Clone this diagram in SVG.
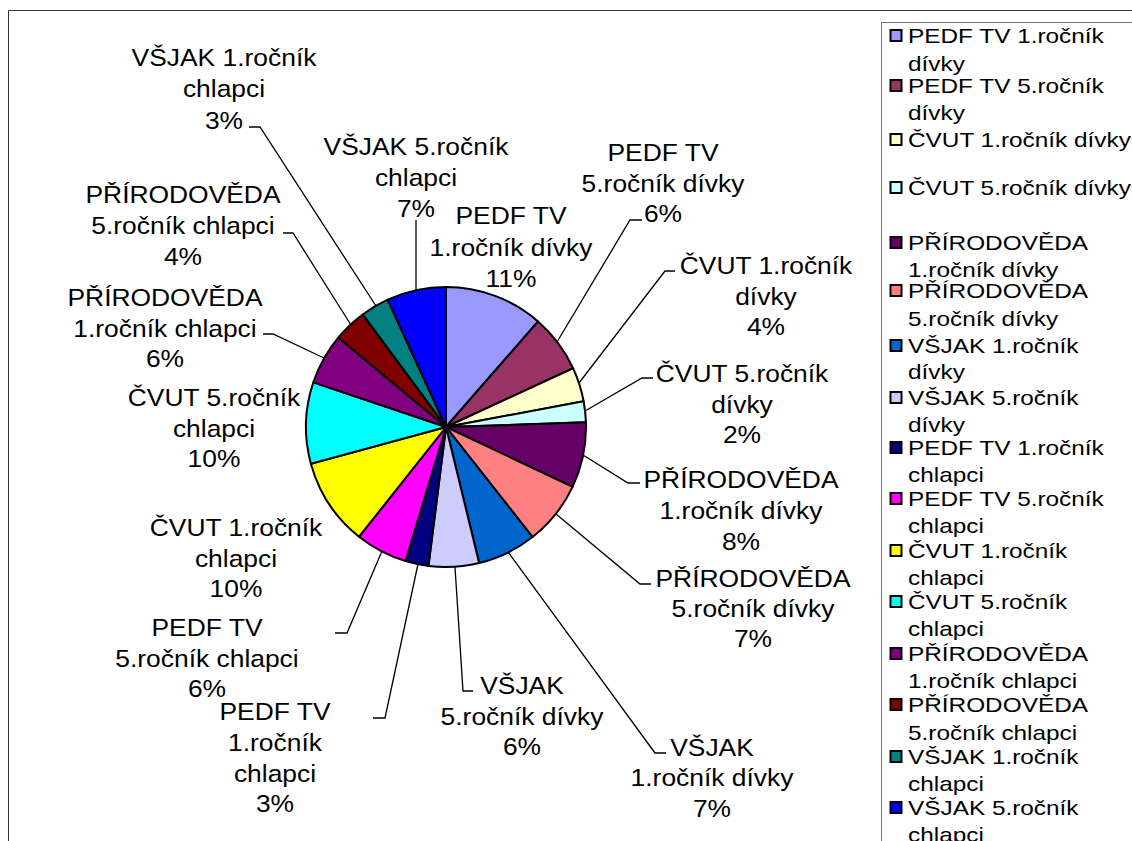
<svg xmlns="http://www.w3.org/2000/svg" width="1132" height="841" viewBox="0 0 1132 841">
<style>
.s{stroke:#000;stroke-width:2;stroke-linejoin:round}
.ld{fill:none;stroke:#000;stroke-width:1.3}
.lb{font-family:"Liberation Sans",Arial,sans-serif;font-size:24px;fill:#000;text-anchor:middle}
.lg{font-family:"Liberation Sans",Arial,sans-serif;font-size:21px;fill:#000}
.sw{stroke:#000;stroke-width:2}
</style>
<rect width="1132" height="841" fill="#fff"/>
<path d="M8.5,841 V10.5 H1132" fill="none" stroke="#333" stroke-width="1"/>
<g id="pie">
<path id="s1" class="s" fill="#9999FF" d="M446,427 L446,287 A140,140 0 0 1 538.04,321.5 Z"/>
<path id="s2" class="s" fill="#993366" d="M446,427 L538.04,321.5 A140,140 0 0 1 573.09,368.27 Z"/>
<path id="s3" class="s" fill="#FFFFCC" d="M446,427 L573.09,368.27 A140,140 0 0 1 583.61,401.25 Z"/>
<path id="s4" class="s" fill="#CCFFFF" d="M446,427 L583.61,401.25 A140,140 0 0 1 585.92,422.36 Z"/>
<path id="s5" class="s" fill="#660066" d="M446,427 L585.92,422.36 A140,140 0 0 1 572.57,486.84 Z"/>
<path id="s6" class="s" fill="#FF8080" d="M446,427 L572.57,486.84 A140,140 0 0 1 532.58,537.03 Z"/>
<path id="s7" class="s" fill="#0066CC" d="M446,427 L532.58,537.03 A140,140 0 0 1 479.15,563.01 Z"/>
<path id="s8" class="s" fill="#CCCCFF" d="M446,427 L479.15,563.01 A140,140 0 0 1 428.46,565.89 Z"/>
<path id="s9" class="s" fill="#000080" d="M446,427 L428.46,565.89 A140,140 0 0 1 405.54,561.02 Z"/>
<path id="s10" class="s" fill="#FF00FF" d="M446,427 L405.54,561.02 A140,140 0 0 1 359.05,536.72 Z"/>
<path id="s11" class="s" fill="#FFFF00" d="M446,427 L359.05,536.72 A140,140 0 0 1 310.9,463.71 Z"/>
<path id="s12" class="s" fill="#00FFFF" d="M446,427 L310.9,463.71 A140,140 0 0 1 313.31,382.34 Z"/>
<path id="s13" class="s" fill="#800080" d="M446,427 L313.31,382.34 A140,140 0 0 1 338.28,337.57 Z"/>
<path id="s14" class="s" fill="#800000" d="M446,427 L338.28,337.57 A140,140 0 0 1 362.73,314.45 Z"/>
<path id="s15" class="s" fill="#008080" d="M446,427 L362.73,314.45 A140,140 0 0 1 387.72,299.71 Z"/>
<path id="s16" class="s" fill="#0000FF" d="M446,427 L387.72,299.71 A140,140 0 0 1 446,287 Z"/>
</g>
<g id="connectors">
<polyline class="ld" points="249,127 260,127 376,306"/>
<polyline class="ld" points="416,220 416,290"/>
<polyline class="ld" points="642,220 630,220 557,342"/>
<polyline class="ld" points="675,271 665,271 579,383"/>
<polyline class="ld" points="653,378 642,378 585,411"/>
<polyline class="ld" points="640,483 628,483 583,455"/>
<polyline class="ld" points="651,584 640,584 556,514"/>
<polyline class="ld" points="666,753 655,753 508,552"/>
<polyline class="ld" points="473,691 463,691 455,567"/>
<polyline class="ld" points="373,718 385,718 418,564"/>
<polyline class="ld" points="335,633 347,633 382,551"/>
<polyline class="ld" points="263,334 273,334 324,358"/>
<polyline class="ld" points="283,233 293,233 351,325"/>
</g>
<g id="labels">
<g id="l-vsjak1ch"><text class="lb" transform="translate(224,66) scale(1.1 1)"><tspan x="0" y="0">VŠJAK 1.ročník</tspan><tspan x="0" y="31">chlapci</tspan><tspan x="0" y="63">3%</tspan></text></g>
<g id="l-vsjak5ch"><text class="lb" transform="translate(416,155) scale(1.1 1)"><tspan x="0" y="0">VŠJAK 5.ročník</tspan><tspan x="0" y="31">chlapci</tspan><tspan x="0" y="62">7%</tspan></text></g>
<g id="l-pedf1d"><text class="lb" transform="translate(511,224) scale(1.1 1)"><tspan x="0" y="0">PEDF TV</tspan><tspan x="0" y="32">1.ročník dívky</tspan><tspan x="0" y="63">11%</tspan></text></g>
<g id="l-pedf5d"><text class="lb" transform="translate(663,161) scale(1.1 1)"><tspan x="0" y="0">PEDF TV</tspan><tspan x="0" y="31">5.ročník dívky</tspan><tspan x="0" y="61">6%</tspan></text></g>
<g id="l-cvut1d"><text class="lb" transform="translate(766,274) scale(1.1 1)"><tspan x="0" y="0">ČVUT 1.ročník</tspan><tspan x="0" y="31">dívky</tspan><tspan x="0" y="61">4%</tspan></text></g>
<g id="l-cvut5d"><text class="lb" transform="translate(742,382) scale(1.1 1)"><tspan x="0" y="0">ČVUT 5.ročník</tspan><tspan x="0" y="31">dívky</tspan><tspan x="0" y="61">2%</tspan></text></g>
<g id="l-pr1d"><text class="lb" transform="translate(741,488) scale(1.1 1)"><tspan x="0" y="0">PŘÍRODOVĚDA</tspan><tspan x="0" y="31">1.ročník dívky</tspan><tspan x="0" y="62">8%</tspan></text></g>
<g id="l-pr5d"><text class="lb" transform="translate(753,587) scale(1.1 1)"><tspan x="0" y="0">PŘÍRODOVĚDA</tspan><tspan x="0" y="30">5.ročník dívky</tspan><tspan x="0" y="60">7%</tspan></text></g>
<g id="l-vsjak1d"><text class="lb" transform="translate(712,756) scale(1.1 1)"><tspan x="0" y="0">VŠJAK</tspan><tspan x="0" y="30">1.ročník dívky</tspan><tspan x="0" y="61">7%</tspan></text></g>
<g id="l-vsjak5d"><text class="lb" transform="translate(522,694) scale(1.1 1)"><tspan x="0" y="0">VŠJAK</tspan><tspan x="0" y="31">5.ročník dívky</tspan><tspan x="0" y="61">6%</tspan></text></g>
<g id="l-pedf1ch"><text class="lb" transform="translate(275,720) scale(1.1 1)"><tspan x="0" y="0">PEDF TV</tspan><tspan x="0" y="31">1.ročník</tspan><tspan x="0" y="62">chlapci</tspan><tspan x="0" y="92">3%</tspan></text></g>
<g id="l-pedf5ch"><text class="lb" transform="translate(207,636) scale(1.1 1)"><tspan x="0" y="0">PEDF TV</tspan><tspan x="0" y="31">5.ročník chlapci</tspan><tspan x="0" y="61">6%</tspan></text></g>
<g id="l-cvut1ch"><text class="lb" transform="translate(236,536) scale(1.1 1)"><tspan x="0" y="0">ČVUT 1.ročník</tspan><tspan x="0" y="31">chlapci</tspan><tspan x="0" y="61">10%</tspan></text></g>
<g id="l-cvut5ch"><text class="lb" transform="translate(214,406) scale(1.1 1)"><tspan x="0" y="0">ČVUT 5.ročník</tspan><tspan x="0" y="31">chlapci</tspan><tspan x="0" y="61">10%</tspan></text></g>
<g id="l-pr1ch"><text class="lb" transform="translate(165,306) scale(1.1 1)"><tspan x="0" y="0">PŘÍRODOVĚDA</tspan><tspan x="0" y="31">1.ročník chlapci</tspan><tspan x="0" y="61">6%</tspan></text></g>
<g id="l-pr5ch"><text class="lb" transform="translate(183,203) scale(1.1 1)"><tspan x="0" y="0">PŘÍRODOVĚDA</tspan><tspan x="0" y="31">5.ročník chlapci</tspan><tspan x="0" y="62">4%</tspan></text></g>
</g>
<g id="legend">
<rect x="881.5" y="22.5" width="300" height="900" fill="#fff" stroke="#777" stroke-width="1"/>
<rect class="sw" x="890.5" y="30" width="11" height="11" fill="#9999FF"/>
<text class="lg" transform="translate(908,43) scale(1.16 1)"><tspan x="0" y="0">PEDF TV 1.ročník</tspan><tspan x="0" y="28">dívky</tspan></text>
<rect class="sw" x="890.5" y="80" width="11" height="11" fill="#993366"/>
<text class="lg" transform="translate(908,93) scale(1.16 1)"><tspan x="0" y="0">PEDF TV 5.ročník</tspan><tspan x="0" y="27">dívky</tspan></text>
<rect class="sw" x="890.5" y="134" width="11" height="11" fill="#FFFFCC"/>
<text class="lg" transform="translate(908,147) scale(1.16 1)">ČVUT 1.ročník dívky</text>
<rect class="sw" x="890.5" y="182" width="11" height="11" fill="#CCFFFF"/>
<text class="lg" transform="translate(908,195) scale(1.16 1)">ČVUT 5.ročník dívky</text>
<rect class="sw" x="890.5" y="237" width="11" height="11" fill="#660066"/>
<text class="lg" transform="translate(908,250) scale(1.16 1)"><tspan x="0" y="0">PŘÍRODOVĚDA</tspan><tspan x="0" y="27">1.ročník dívky</tspan></text>
<rect class="sw" x="890.5" y="285" width="11" height="11" fill="#FF8080"/>
<text class="lg" transform="translate(908,298) scale(1.16 1)"><tspan x="0" y="0">PŘÍRODOVĚDA</tspan><tspan x="0" y="28">5.ročník dívky</tspan></text>
<rect class="sw" x="890.5" y="340" width="11" height="11" fill="#0066CC"/>
<text class="lg" transform="translate(908,353) scale(1.16 1)"><tspan x="0" y="0">VŠJAK 1.ročník</tspan><tspan x="0" y="26">dívky</tspan></text>
<rect class="sw" x="890.5" y="392" width="11" height="11" fill="#CCCCFF"/>
<text class="lg" transform="translate(908,405) scale(1.16 1)"><tspan x="0" y="0">VŠJAK 5.ročník</tspan><tspan x="0" y="27">dívky</tspan></text>
<rect class="sw" x="890.5" y="442" width="11" height="11" fill="#000080"/>
<text class="lg" transform="translate(908,455) scale(1.16 1)"><tspan x="0" y="0">PEDF TV 1.ročník</tspan><tspan x="0" y="27">chlapci</tspan></text>
<rect class="sw" x="890.5" y="493" width="11" height="11" fill="#FF00FF"/>
<text class="lg" transform="translate(908,506) scale(1.16 1)"><tspan x="0" y="0">PEDF TV 5.ročník</tspan><tspan x="0" y="27">chlapci</tspan></text>
<rect class="sw" x="890.5" y="545" width="11" height="11" fill="#FFFF00"/>
<text class="lg" transform="translate(908,558) scale(1.16 1)"><tspan x="0" y="0">ČVUT 1.ročník</tspan><tspan x="0" y="27">chlapci</tspan></text>
<rect class="sw" x="890.5" y="596" width="11" height="11" fill="#00FFFF"/>
<text class="lg" transform="translate(908,609) scale(1.16 1)"><tspan x="0" y="0">ČVUT 5.ročník</tspan><tspan x="0" y="27">chlapci</tspan></text>
<rect class="sw" x="890.5" y="648" width="11" height="11" fill="#800080"/>
<text class="lg" transform="translate(908,661) scale(1.16 1)"><tspan x="0" y="0">PŘÍRODOVĚDA</tspan><tspan x="0" y="27">1.ročník chlapci</tspan></text>
<rect class="sw" x="890.5" y="699" width="11" height="11" fill="#800000"/>
<text class="lg" transform="translate(908,712) scale(1.16 1)"><tspan x="0" y="0">PŘÍRODOVĚDA</tspan><tspan x="0" y="28">5.ročník chlapci</tspan></text>
<rect class="sw" x="890.5" y="751" width="11" height="11" fill="#008080"/>
<text class="lg" transform="translate(908,764) scale(1.16 1)"><tspan x="0" y="0">VŠJAK 1.ročník</tspan><tspan x="0" y="27">chlapci</tspan></text>
<rect class="sw" x="890.5" y="802" width="11" height="11" fill="#0000FF"/>
<text class="lg" transform="translate(908,815) scale(1.16 1)"><tspan x="0" y="0">VŠJAK 5.ročník</tspan><tspan x="0" y="27">chlapci</tspan></text>
</g>
</svg>
